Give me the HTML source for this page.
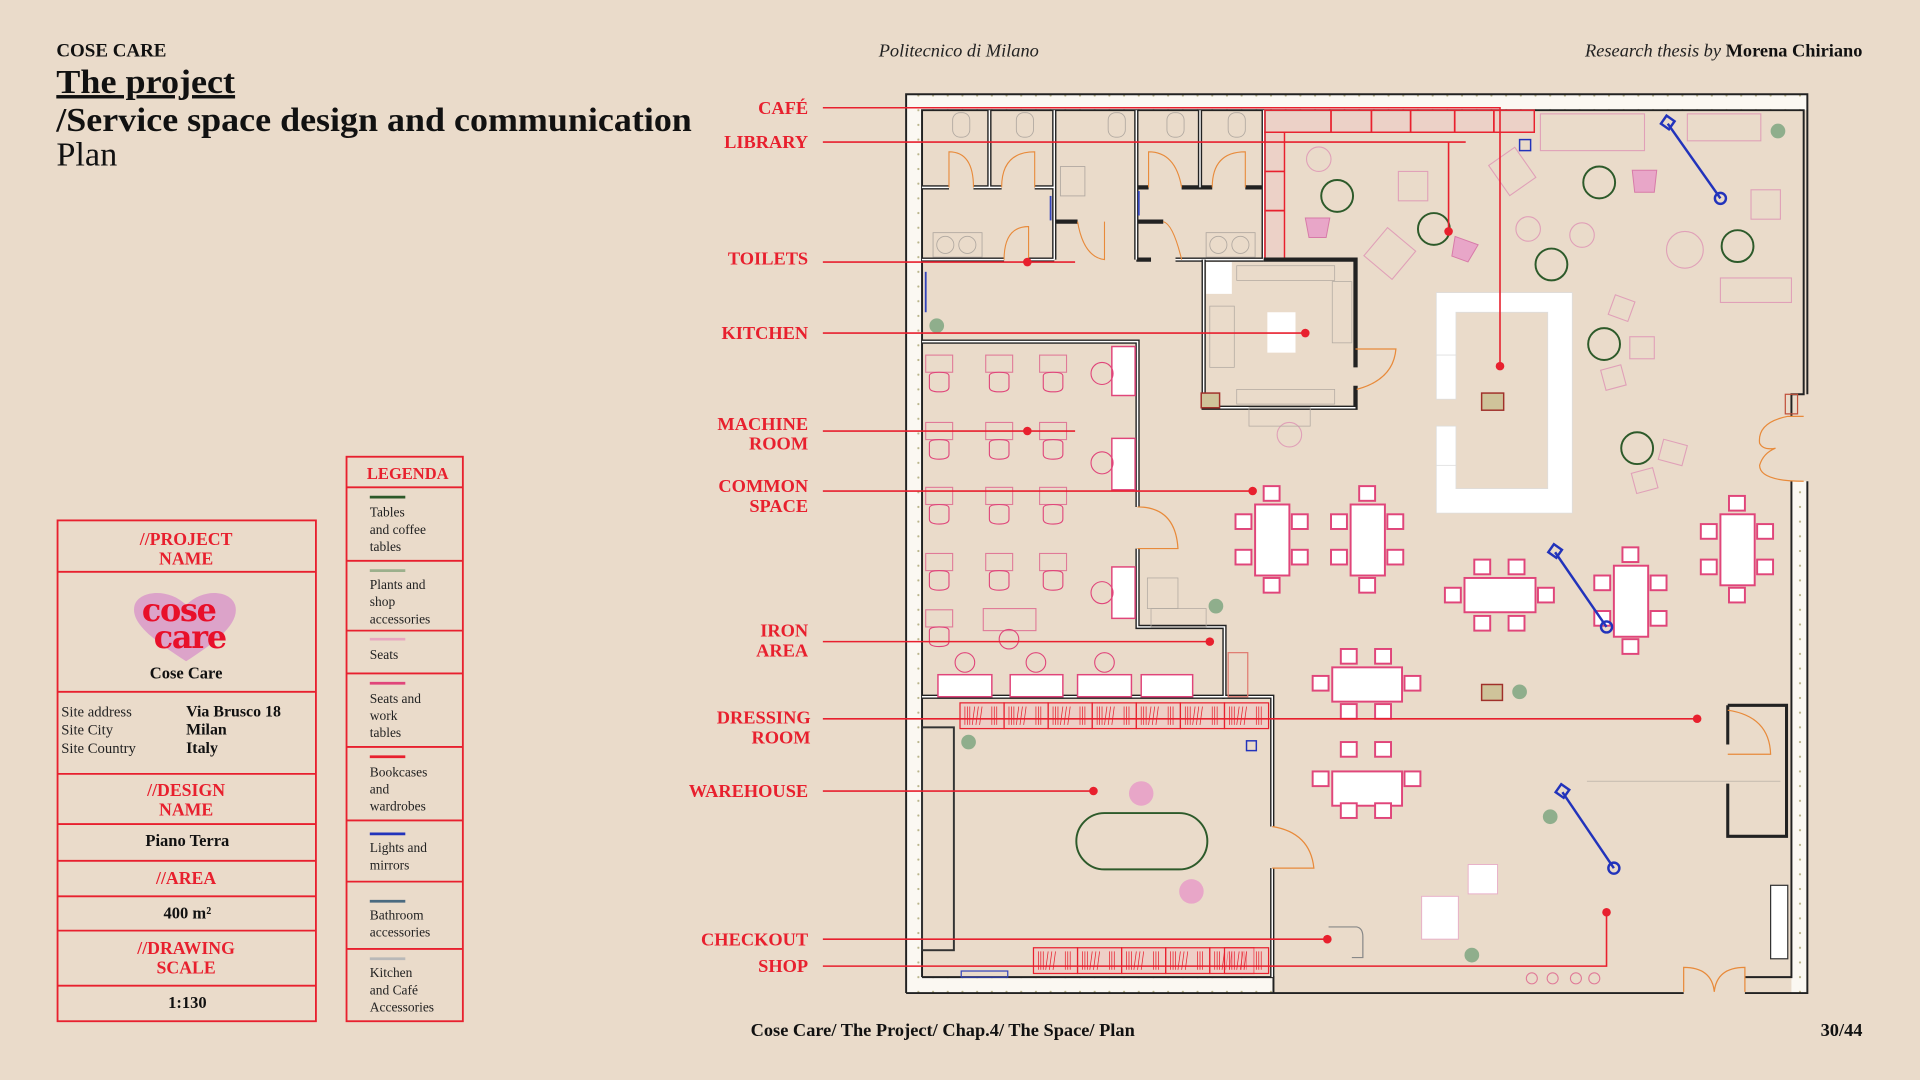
<!DOCTYPE html>
<html><head><meta charset="utf-8"><style>
html,body{margin:0;padding:0;background:#eadbca;width:1920px;height:1080px;overflow:hidden}
svg{display:block}
</style></head><body>
<svg width="1920" height="1080" viewBox="0 0 1568 882" preserveAspectRatio="none" xmlns="http://www.w3.org/2000/svg" font-family="Liberation Serif, serif">
<defs>
<pattern id="dots" width="12" height="12" patternUnits="userSpaceOnUse"><rect width="12" height="12" fill="#fbf8f2"/><circle cx="6" cy="6" r="0.9" fill="#b9b48a"/></pattern>
<g id="ch"><rect x="0" y="0" width="13" height="12" fill="#fff" stroke="#e0457a" stroke-width="1.6"/></g>
<g id="wc"><rect x="0" y="0" width="22" height="14" fill="none" stroke="#e07a98" stroke-width="0.9"/><path d="M3 17 q0 -3 8 -3 q8 0 8 3 v9 q0 4 -8 4 q-8 0 -8 -4z" fill="none" stroke="#e0457a" stroke-width="0.9"/></g>
<g id="shelf"><rect x="0" y="0" width="36" height="21" fill="#f1c4c4" fill-opacity="0.5" stroke="#e8202e" stroke-width="1"/><path d="M4 3v15M6 3v15M8 3v15M12 3l-2 15M15 3l-2 15M18 3l-2 15M26 3v15M28 3v15M30 3v15" stroke="#e8202e" stroke-width="0.6"/></g>
</defs>
<rect width="1568" height="882" fill="#eadbca"/>

<!-- Header -->
<text x="46" y="46" font-size="15.5" font-weight="bold" fill="#111">COSE CARE</text>
<text x="46" y="76" font-size="28" font-weight="bold" fill="#111" text-decoration="underline" textLength="146" lengthAdjust="spacingAndGlyphs">The project</text>
<text x="46" y="107" font-size="28" font-weight="bold" fill="#111" textLength="519" lengthAdjust="spacingAndGlyphs">/Service space design and communication</text>
<text x="46" y="135" font-size="28" fill="#111">Plan</text>
<text x="783" y="46" font-size="15" font-style="italic" fill="#222" text-anchor="middle">Politecnico di Milano</text>
<text x="1521" y="46" font-size="15" fill="#222" text-anchor="end"><tspan font-style="italic">Research thesis by </tspan><tspan font-weight="bold" fill="#111">Morena Chiriano</tspan></text>
<text x="613" y="846" font-size="15" font-weight="bold" fill="#111">Cose Care/ The Project/ Chap.4/ The Space/ Plan</text>
<text x="1521" y="846" font-size="15" font-weight="bold" fill="#111" text-anchor="end">30/44</text>

<!-- Left info table -->
<g stroke="#e8202e" stroke-width="1.5" fill="none">
<rect x="47" y="425" width="211" height="409"/>
<line x1="47" y1="467" x2="258" y2="467"/><line x1="47" y1="565" x2="258" y2="565"/>
<line x1="47" y1="632" x2="258" y2="632"/><line x1="47" y1="673" x2="258" y2="673"/>
<line x1="47" y1="703" x2="258" y2="703"/><line x1="47" y1="732" x2="258" y2="732"/>
<line x1="47" y1="760" x2="258" y2="760"/><line x1="47" y1="805" x2="258" y2="805"/>
</g>
<g font-size="14.5" font-weight="bold" fill="#e8202e" text-anchor="middle">
<text x="152" y="445">//PROJECT</text><text x="152" y="461">NAME</text>
<text x="152" y="650">//DESIGN</text><text x="152" y="666">NAME</text>
<text x="152" y="722">//AREA</text>
<text x="152" y="779">//DRAWING</text><text x="152" y="795">SCALE</text>
</g>
<path d="M152 540 C124 522 106 508 110 494 C114 482 138 480 152 494 C166 480 188 482 192 494 C196 508 180 522 152 540Z" fill="#dca3c9"/>
<text x="146" y="507" font-size="26" font-weight="bold" fill="#e8102a" text-anchor="middle" font-family="DejaVu Serif, serif" letter-spacing="-1">cose</text>
<text x="155" y="529" font-size="26" font-weight="bold" fill="#e8102a" text-anchor="middle" font-family="DejaVu Serif, serif" letter-spacing="-1">care</text>
<text x="152" y="554" font-size="13.5" font-weight="bold" fill="#111" text-anchor="middle">Cose Care</text>
<g font-size="12" fill="#222"><text x="50" y="585">Site address</text><text x="50" y="600">Site City</text><text x="50" y="615">Site Country</text></g>
<g font-size="13" font-weight="bold" fill="#111"><text x="152" y="585">Via Brusco 18</text><text x="152" y="600">Milan</text><text x="152" y="615">Italy</text></g>
<g font-size="13.5" font-weight="bold" fill="#111" text-anchor="middle">
<text x="153" y="691">Piano Terra</text>
<text x="153" y="750">400 m²</text>
<text x="153" y="823">1:130</text>
</g>

<!-- Legend -->
<g stroke="#e8202e" stroke-width="1.5" fill="none">
<rect x="283" y="373" width="95" height="461"/>
<line x1="283" y1="398" x2="378" y2="398"/><line x1="283" y1="458" x2="378" y2="458"/>
<line x1="283" y1="515" x2="378" y2="515"/><line x1="283" y1="550" x2="378" y2="550"/>
<line x1="283" y1="610" x2="378" y2="610"/><line x1="283" y1="670" x2="378" y2="670"/>
<line x1="283" y1="720" x2="378" y2="720"/><line x1="283" y1="775" x2="378" y2="775"/>
</g>
<text x="333" y="391" font-size="13.5" font-weight="bold" fill="#e8202e" text-anchor="middle">LEGENDA</text>
<g stroke-width="2.2">
<line x1="302" y1="406" x2="331" y2="406" stroke="#2d5a2a"/>
<line x1="302" y1="466" x2="331" y2="466" stroke="#9cb08c"/>
<line x1="302" y1="522" x2="331" y2="522" stroke="#e8a6bf"/>
<line x1="302" y1="558" x2="331" y2="558" stroke="#e0457a"/>
<line x1="302" y1="618" x2="331" y2="618" stroke="#e8202e"/>
<line x1="302" y1="681" x2="331" y2="681" stroke="#2233bb"/>
<line x1="302" y1="736" x2="331" y2="736" stroke="#4a6a80"/>
<line x1="302" y1="783" x2="331" y2="783" stroke="#b8b8b8"/>
</g>
<g font-size="11" fill="#222">
<text x="302" y="422">Tables</text><text x="302" y="436">and coffee</text><text x="302" y="450">tables</text>
<text x="302" y="481">Plants and</text><text x="302" y="495">shop</text><text x="302" y="509">accessories</text>
<text x="302" y="538">Seats</text>
<text x="302" y="574">Seats and</text><text x="302" y="588">work</text><text x="302" y="602">tables</text>
<text x="302" y="634">Bookcases</text><text x="302" y="648">and</text><text x="302" y="662">wardrobes</text>
<text x="302" y="696">Lights and</text><text x="302" y="710">mirrors</text>
<text x="302" y="751">Bathroom</text><text x="302" y="765">accessories</text>
<text x="302" y="798">Kitchen</text><text x="302" y="812">and Café</text><text x="302" y="826">Accessories</text>
</g>

<!-- PLAN: outer walls -->
<rect x="740" y="77" width="736" height="734" fill="#eadbca"/>
<rect x="740" y="77" width="736" height="13" fill="url(#dots)"/>
<rect x="740" y="77" width="13" height="734" fill="url(#dots)"/>
<rect x="740" y="798" width="300" height="13" fill="url(#dots)"/>
<rect x="1463" y="393" width="13" height="418" fill="url(#dots)"/>
<g stroke="#222" stroke-width="1.6" fill="none">
<path d="M740 811 V77 H1476 V322"/>
<path d="M753 798 V90 H1473 V322 H1463 V340"/>
<path d="M1476 393 V811 H1425"/>
<path d="M1463 393 V798 H1425"/>
<path d="M740 811 H1040 M753 798 H1040 V811 M1040 811 H1375"/>
</g>
<g stroke="#e88a3a" stroke-width="1" fill="none">
<path d="M1473 340 H1460 Q1435 345 1437 362 Q1440 368 1450 366 Q1440 370 1437 380 Q1437 393 1473 393"/>
<path d="M1375 810 V790 Q1398 790 1400 810 M1425 810 V790 Q1402 790 1400 810"/>
</g>
<rect x="1458" y="322" width="10" height="16" fill="none" stroke="#c0503a" stroke-width="1"/>

<!-- Toilets -->
<g stroke="#222" stroke-width="3.5" fill="none">
<path d="M808 90 V153 M861 90 V212 M928 90 V212 M980 90 V153 M1032 90 V212"/>
<path d="M753 153 H775 M795 153 H818 M845 153 H861 M928 153 H938 M965 153 H990 M1017 153 H1032"/>
<path d="M861 181 H880 M928 181 H950"/>
<path d="M753 212 H820 M840 212 H861 M928 212 H940 M960 212 H1032"/>
</g>
<g stroke="#fff" stroke-width="1.2" fill="none">
<path d="M808 90 V153 M861 90 V212 M928 90 V212 M980 90 V153 M1032 90 V212"/>
<path d="M753 153 H775 M795 153 H818 M845 153 H861 M753 212 H820 M840 212 H861 M960 212 H1032"/>
</g>
<g stroke="#e88a3a" stroke-width="0.9" fill="none">
<path d="M775 153 V124 Q795 124 795 153"/><path d="M818 153 Q818 124 845 124 V153"/>
<path d="M938 153 V124 Q960 124 965 153"/><path d="M990 153 Q990 124 1017 124 V153"/>
<path d="M820 212 Q820 185 840 185 V212"/><path d="M880 181 Q885 210 902 212 V181"/><path d="M950 181 Q958 183 965 212"/>
</g>
<g stroke="#b0a8a0" stroke-width="0.7" fill="none">
<rect x="778" y="92" width="14" height="20" rx="6"/><rect x="830" y="92" width="14" height="20" rx="6"/>
<rect x="905" y="92" width="14" height="20" rx="6"/><rect x="953" y="92" width="14" height="20" rx="6"/><rect x="1003" y="92" width="14" height="20" rx="6"/>
<rect x="762" y="190" width="40" height="20"/><circle cx="772" cy="200" r="7"/><circle cx="790" cy="200" r="7"/>
<rect x="985" y="190" width="40" height="20"/><circle cx="995" cy="200" r="7"/><circle cx="1013" cy="200" r="7"/>
<rect x="866" y="136" width="20" height="24"/>
</g>
<g stroke="#3344bb" stroke-width="1.5"><line x1="858" y1="160" x2="858" y2="180"/><line x1="930" y1="156" x2="930" y2="176"/><line x1="756" y1="222" x2="756" y2="255"/></g>

<!-- Library bookcases -->
<g stroke="#e8202e" stroke-width="1.2" fill="#f1c4c4" fill-opacity="0.4">
<rect x="1033" y="90" width="220" height="18"/>
<rect x="1033" y="108" width="16" height="104"/>
</g>
<g stroke="#e8202e" stroke-width="1.4"><path d="M1087 90v18M1120 90v18M1152 90v18M1188 90v18M1220 90v18M1033 140h16M1033 172h16"/></g>
<rect x="1241" y="114" width="9" height="9" fill="none" stroke="#2233bb" stroke-width="1.2"/>
<g stroke="#e0a0b8" stroke-width="0.9" fill="none">
<rect x="1258" y="93" width="85" height="30"/><rect x="1378" y="93" width="60" height="22"/>
<rect x="1222" y="125" width="26" height="30" transform="rotate(-35 1235 140)"/>
<rect x="1120" y="192" width="30" height="30" transform="rotate(40 1135 207)"/>
<rect x="1142" y="140" width="24" height="24"/><rect x="1430" y="155" width="24" height="24"/>
<circle cx="1376" cy="204" r="15"/><rect x="1405" y="227" width="58" height="20"/>
<circle cx="1077" cy="130" r="10"/><circle cx="1248" cy="187" r="10"/><circle cx="1292" cy="192" r="10"/>
<rect x="1316" y="243" width="17" height="17" transform="rotate(20 1324 251)"/><rect x="1331" y="275" width="20" height="18"/>
<rect x="1309" y="300" width="17" height="17" transform="rotate(-15 1317 308)"/><rect x="1356" y="361" width="20" height="17" transform="rotate(15 1366 370)"/>
<rect x="1334" y="384" width="18" height="17" transform="rotate(-15 1343 392)"/>
<circle cx="1053" cy="355" r="10"/>
</g>
<g fill="#e8a6c8" stroke="#d77aa8" stroke-width="0.8">
<path d="M1066 178 h20 l-3 16 h-14z"/><path d="M1185 196 h20 l-3 16 h-14z" transform="rotate(20 1195 204)"/>
<path d="M1333 139 h20 l-2 18 h-16z"/>
</g>
<g stroke="#2d5a2a" stroke-width="1.6" fill="none">
<circle cx="1092" cy="160" r="13"/><circle cx="1171" cy="187" r="13"/><circle cx="1306" cy="149" r="13"/>
<circle cx="1267" cy="216" r="13"/><circle cx="1419" cy="201" r="13"/><circle cx="1310" cy="281" r="13"/><circle cx="1337" cy="366" r="13"/>
<rect x="879" y="664" width="107" height="46" rx="23"/>
</g>
<g fill="#8fae8c"><circle cx="765" cy="266" r="6"/><circle cx="993" cy="495" r="6"/><circle cx="791" cy="606" r="6"/>
<circle cx="1241" cy="565" r="6"/><circle cx="1266" cy="667" r="6"/><circle cx="1202" cy="780" r="6"/><circle cx="1452" cy="107" r="6"/></g>
<g fill="#e8a6c8"><circle cx="932" cy="648" r="10"/><circle cx="973" cy="728" r="10"/></g>

<!-- Kitchen -->
<path d="M983 212 V333 H1107 V315 M1107 300 V212 H1032" stroke="#222" stroke-width="3.5" fill="none"/>
<path d="M983 212 V333 H1107" stroke="#fff" stroke-width="1.2" fill="none"/>
<path d="M1107 285 H1140 Q1138 310 1108 318" stroke="#e88a3a" stroke-width="1" fill="none"/>
<rect x="985" y="214" width="21" height="26" fill="#fff"/>
<rect x="1035" y="255" width="23" height="33" fill="#fff"/>
<g stroke="#b0a8a0" stroke-width="0.6" fill="none"><rect x="1010" y="217" width="80" height="12"/><rect x="1010" y="318" width="80" height="12"/><rect x="988" y="250" width="20" height="50"/><rect x="1088" y="230" width="16" height="50"/><rect x="1020" y="333" width="50" height="15"/></g>
<g fill="#cfc39a" stroke="#a0302a" stroke-width="1.2"><rect x="981" y="321" width="15" height="12"/><rect x="1210" y="321" width="18" height="14"/><rect x="1210" y="559" width="17" height="13"/></g>

<!-- Bar counter -->
<path d="M1173 239 H1284 V419 H1173 V380 H1189 V399 H1264 V255 H1189 V290 H1173Z" fill="#fff" stroke="#ddd" stroke-width="0.6"/>
<rect x="1173" y="290" width="16" height="36" fill="#fff" stroke="#ddd" stroke-width="0.6"/>
<rect x="1173" y="348" width="16" height="32" fill="#fff" stroke="#ddd" stroke-width="0.6"/>

<!-- Machine room walls -->
<g stroke="#222" stroke-width="3.5" fill="none">
<path d="M753 279 H929 V414"/><path d="M929 448 V512 H1000 V569 H1039 V675"/><path d="M1039 709 V798"/><path d="M753 569 H1000"/>
</g>
<g stroke="#fff" stroke-width="1.2" fill="none"><path d="M753 279 H929 V414 M929 448 V512 H1000 V569 M753 569 H1039 V675 M1039 709 V798"/></g>
<g stroke="#e88a3a" stroke-width="1" fill="none"><path d="M929 414 Q960 414 962 448 H929"/><path d="M1039 675 Q1070 680 1073 709 H1039"/></g>
<use href="#wc" x="756" y="290"/><use href="#wc" x="805" y="290"/><use href="#wc" x="849" y="290"/>
<use href="#wc" x="756" y="345"/><use href="#wc" x="805" y="345"/><use href="#wc" x="849" y="345"/>
<use href="#wc" x="756" y="398"/><use href="#wc" x="805" y="398"/><use href="#wc" x="849" y="398"/>
<use href="#wc" x="756" y="452"/><use href="#wc" x="805" y="452"/><use href="#wc" x="849" y="452"/>
<use href="#wc" x="756" y="498"/>
<rect x="803" y="497" width="43" height="18" fill="none" stroke="#e07a98" stroke-width="0.9"/>
<g fill="#fff" stroke="#e0457a" stroke-width="1.2">
<rect x="908" y="283" width="19" height="40"/><rect x="908" y="358" width="19" height="42"/><rect x="908" y="463" width="19" height="42"/>
<rect x="766" y="551" width="44" height="18"/><rect x="825" y="551" width="43" height="18"/><rect x="880" y="551" width="44" height="18"/><rect x="932" y="551" width="42" height="18"/>
</g>
<g fill="none" stroke="#e0457a" stroke-width="0.9">
<circle cx="900" cy="305" r="9"/><circle cx="900" cy="378" r="9"/><circle cx="900" cy="484" r="9"/>
<circle cx="788" cy="541" r="8"/><circle cx="846" cy="541" r="8"/><circle cx="902" cy="541" r="8"/><circle cx="824" cy="522" r="8"/>
</g>
<rect x="1003" y="533" width="16" height="36" fill="none" stroke="#e07a70" stroke-width="1"/>
<g stroke="#b0a8a0" stroke-width="0.6" fill="none"><rect x="937" y="472" width="25" height="25"/><rect x="940" y="497" width="45" height="15"/></g>

<!-- Dressing & shop bookcases -->
<g><use href="#shelf" x="784" y="574"/><use href="#shelf" x="820" y="574"/><use href="#shelf" x="856" y="574"/><use href="#shelf" x="892" y="574"/><use href="#shelf" x="928" y="574"/><use href="#shelf" x="964" y="574"/><use href="#shelf" x="1000" y="574"/>
<use href="#shelf" x="844" y="774"/><use href="#shelf" x="880" y="774"/><use href="#shelf" x="916" y="774"/><use href="#shelf" x="952" y="774"/><use href="#shelf" x="988" y="774"/><use href="#shelf" x="1000" y="774"/></g>
<rect x="753" y="594" width="26" height="182" fill="none" stroke="#333" stroke-width="1.6"/>
<rect x="785" y="793" width="38" height="5" fill="none" stroke="#3344bb" stroke-width="1"/>
<rect x="1018" y="605" width="8" height="8" fill="none" stroke="#2233bb" stroke-width="1.2"/>
<path d="M1085 757 H1108 Q1113 758 1113 765 V782 H1104" fill="none" stroke="#888" stroke-width="1"/>

<!-- Dining tables -->
<g fill="#fff" stroke="#e0457a" stroke-width="1.6">
<rect x="1025" y="412" width="28" height="58"/><rect x="1103" y="412" width="28" height="58"/>
<rect x="1196" y="472" width="58" height="28"/><rect x="1318" y="462" width="28" height="58"/>
<rect x="1405" y="420" width="28" height="58"/><rect x="1088" y="545" width="57" height="28"/><rect x="1088" y="630" width="57" height="28"/>
</g>
<use href="#ch" x="1032" y="397"/><use href="#ch" x="1032" y="472"/><use href="#ch" x="1009" y="420"/><use href="#ch" x="1009" y="449"/><use href="#ch" x="1055" y="420"/><use href="#ch" x="1055" y="449"/>
<use href="#ch" x="1110" y="397"/><use href="#ch" x="1110" y="472"/><use href="#ch" x="1087" y="420"/><use href="#ch" x="1087" y="449"/><use href="#ch" x="1133" y="420"/><use href="#ch" x="1133" y="449"/>
<use href="#ch" x="1204" y="457"/><use href="#ch" x="1232" y="457"/><use href="#ch" x="1204" y="503"/><use href="#ch" x="1232" y="503"/><use href="#ch" x="1180" y="480"/><use href="#ch" x="1256" y="480"/>
<use href="#ch" x="1325" y="447"/><use href="#ch" x="1325" y="522"/><use href="#ch" x="1302" y="470"/><use href="#ch" x="1302" y="499"/><use href="#ch" x="1348" y="470"/><use href="#ch" x="1348" y="499"/>
<use href="#ch" x="1412" y="405"/><use href="#ch" x="1412" y="480"/><use href="#ch" x="1389" y="428"/><use href="#ch" x="1389" y="457"/><use href="#ch" x="1435" y="428"/><use href="#ch" x="1435" y="457"/>
<use href="#ch" x="1095" y="530"/><use href="#ch" x="1123" y="530"/><use href="#ch" x="1095" y="575"/><use href="#ch" x="1123" y="575"/><use href="#ch" x="1072" y="552"/><use href="#ch" x="1147" y="552"/>
<use href="#ch" x="1095" y="606"/><use href="#ch" x="1123" y="606"/><use href="#ch" x="1095" y="656"/><use href="#ch" x="1123" y="656"/><use href="#ch" x="1072" y="630"/><use href="#ch" x="1147" y="630"/>

<!-- Right fitting room -->
<path d="M1411 576 H1459 V683 H1411 V640 M1411 608 V576" stroke="#222" stroke-width="2.5" fill="none"/>
<path d="M1411 580 Q1445 585 1446 616 H1411" stroke="#e88a3a" stroke-width="1" fill="none"/>
<rect x="1446" y="723" width="14" height="60" fill="#fff" stroke="#333" stroke-width="1"/>
<rect x="1199" y="706" width="24" height="24" fill="#fff" stroke="#e8b0c8" stroke-width="0.8"/>
<rect x="1161" y="732" width="30" height="35" fill="#fff" stroke="#e8b0c8" stroke-width="0.8"/>
<g fill="none" stroke="#e07a98" stroke-width="0.9"><circle cx="1251" cy="799" r="4.5"/><circle cx="1268" cy="799" r="4.5"/><circle cx="1287" cy="799" r="4.5"/><circle cx="1302" cy="799" r="4.5"/></g>
<path d="M1296 638 H1454" stroke="#b0a8a0" stroke-width="0.5"/>

<!-- Lamps -->
<g stroke="#2233bb" stroke-width="2" fill="none">
<line x1="1362" y1="101" x2="1405" y2="162"/><circle cx="1405" cy="162" r="4.5"/><rect x="1358" y="96" width="8" height="8" transform="rotate(35 1362 100)"/>
<line x1="1270" y1="451" x2="1312" y2="512"/><circle cx="1312" cy="512" r="4.5"/><rect x="1266" y="446" width="8" height="8" transform="rotate(35 1270 450)"/>
<line x1="1276" y1="647" x2="1318" y2="709"/><circle cx="1318" cy="709" r="4.5"/><rect x="1272" y="642" width="8" height="8" transform="rotate(35 1276 646)"/>
</g>

<!-- Label lines -->
<g stroke="#e8202e" stroke-width="1.3" fill="none">
<path d="M672 88 H1225 V299"/>
<path d="M672 116 H1197 M1183 116 V189"/>
<path d="M672 214 H878"/><path d="M672 272 H1066"/><path d="M672 352 H878"/>
<path d="M672 401 H1023"/><path d="M672 524 H988"/><path d="M672 587 H1386"/>
<path d="M672 646 H893"/><path d="M672 767 H1084"/><path d="M672 789 H1312 V745"/>
</g>
<g fill="#e8202e">
<circle cx="1225" cy="299" r="3.5"/><circle cx="1183" cy="189" r="3.5"/><circle cx="839" cy="214" r="3.5"/>
<circle cx="1066" cy="272" r="3.5"/><circle cx="839" cy="352" r="3.5"/><circle cx="1023" cy="401" r="3.5"/>
<circle cx="988" cy="524" r="3.5"/><circle cx="1386" cy="587" r="3.5"/><circle cx="893" cy="646" r="3.5"/>
<circle cx="1084" cy="767" r="3.5"/><circle cx="1312" cy="745" r="3.5"/>
</g>
<g font-size="15" font-weight="bold" fill="#e8202e" text-anchor="end">
<text x="660" y="93">CAFÉ</text>
<text x="660" y="121">LIBRARY</text>
<text x="660" y="216">TOILETS</text>
<text x="660" y="277">KITCHEN</text>
<text x="660" y="351">MACHINE</text><text x="660" y="367">ROOM</text>
<text x="660" y="402">COMMON</text><text x="660" y="418">SPACE</text>
<text x="660" y="520">IRON</text><text x="660" y="536">AREA</text>
<text x="662" y="591">DRESSING</text><text x="662" y="607">ROOM</text>
<text x="660" y="651">WAREHOUSE</text>
<text x="660" y="772">CHECKOUT</text>
<text x="660" y="794">SHOP</text>
</g>
</svg>
</body></html>
